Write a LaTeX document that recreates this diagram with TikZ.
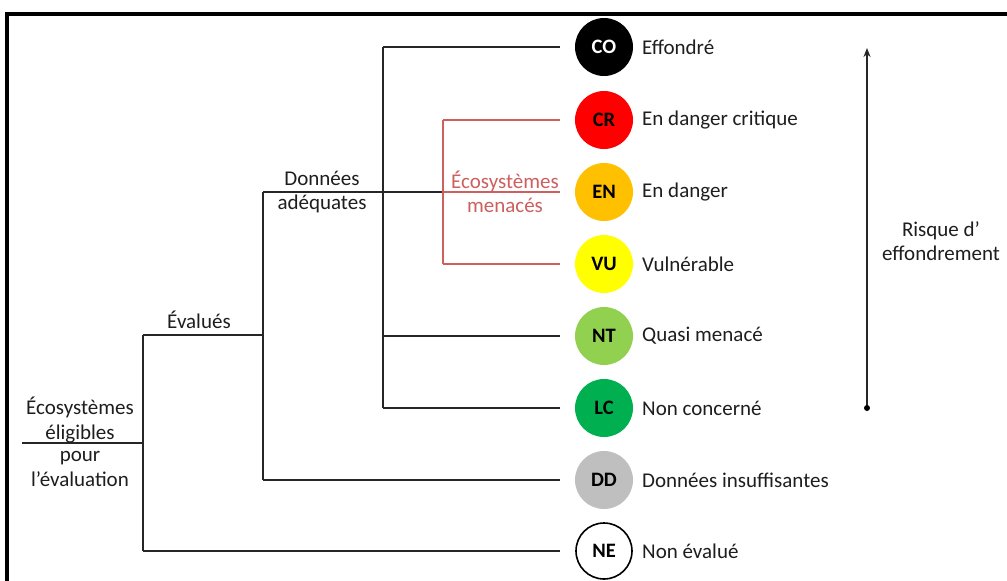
\documentclass[tikz,border=0pt]{standalone}
\usepackage{fontspec}
\setmainfont{Carlito}
\usetikzlibrary{arrows.meta}
\definecolor{crred}{RGB}{255,0,0}
\definecolor{enorange}{RGB}{255,192,0}
\definecolor{vuyellow}{RGB}{255,255,0}
\definecolor{ntgreen}{RGB}{146,208,80}
\definecolor{lcgreen}{RGB}{0,176,80}
\definecolor{ddgray}{RGB}{191,191,191}
\definecolor{menred}{RGB}{205,95,95}
\definecolor{txt}{RGB}{30,30,30}
\tikzset{
  cat/.style={circle, minimum size=58pt, inner sep=0pt, font=\fontsize{20.5}{20.5}\selectfont\bfseries},
  lab/.style={anchor=west, inner sep=0pt, font=\fontsize{21}{24}\selectfont, text=txt},
  tlab/.style={align=center, inner sep=0pt, font=\fontsize{21}{24.5}\selectfont, text=txt},
  tree/.style={line width=1.7pt, black!85},
  redtree/.style={line width=1.6pt, menred},
  tocat/.style={shorten >=15pt}
}
\begin{document}
\begin{tikzpicture}[x=1pt,y=-1pt]
\useasboundingbox (0,0) rectangle (1007,581);
\fill[white] (0,0) rectangle (1007,581);
% frame
\draw[line width=3.5pt, black] (7,581) -- (7,14) -- (1007,14);

% category circles
\node[cat, fill=black, text=white] (co) at (604,47) {CO};
\node[cat, fill=crred] (cr) at (604,120) {CR};
\node[cat, fill=enorange] (en) at (604,192) {EN};
\node[cat, fill=vuyellow] (vu) at (604,264) {VU};
\node[cat, fill=ntgreen] (nt) at (604,336) {NT};
\node[cat, fill=lcgreen] (lc) at (604,408) {LC};
\node[cat, fill=ddgray] (dd) at (604,480) {DD};
\node[cat, fill=white, draw=black, line width=1.6pt, minimum size=56pt] (ne) at (604,551) {NE};

% labels
\node[lab] (lco) at (642,47) {Effondré};
\node[lab] (lcr) at (642,120) {En danger critique};
\node[lab] (len) at (642,192) {En danger};
\node[lab] (lvu) at (642,264) {Vulnérable};
\node[lab] (lnt) at (642,336) {Quasi menacé};
\node[lab] (llc) at (642,408) {Non concerné};
\node[lab] (ldd) at (642,480) {Données insuffisantes};
\node[lab] (lne) at (642,551) {Non évalué};

% junction coordinates
\coordinate (root) at (22,443);
\coordinate (rj) at (143,443);
\coordinate (rt) at (143,335);
\coordinate (rb) at (143,551);
\coordinate (ej) at (263,335);
\coordinate (et) at (263,192);
\coordinate (eb) at (263,480);
\coordinate (dj) at (383,192);
\coordinate (dt) at (383,47);
\coordinate (db) at (383,408);
\coordinate (dn) at (383,336);
\coordinate (mj) at (443,192);
\coordinate (mt) at (443,120);
\coordinate (mb) at (443,264);

% tree
\draw[tree] (root) -- (rj);
\draw[tree] (rt) -- (rb);
\draw[tree, tocat] (rb) -- (ne.west);
\draw[tree] (rt) -- (ej);
\draw[tree] (et) -- (eb);
\draw[tree, tocat] (eb) -- (dd.west);
\draw[tree] (et) -- (dj);
\draw[tree] (dt) -- (db);
\draw[tree, tocat] (dt) -- (co.west);
\draw[tree, tocat] (dn) -- (nt.west);
\draw[tree, tocat] (db) -- (lc.west);
\draw[tree] (dj) -- (mj);
\draw[redtree] (mt) -- (mb);
\draw[redtree, tocat] (mt) -- (cr.west);
\draw[redtree, tocat] (mj) -- (en.west);
\draw[redtree, tocat] (mb) -- (vu.west);

% branch labels
\node[tlab] (elig1) at (80,420) {Écosystèmes\\éligibles};
\node[tlab] (elig2) at (80,469) {pour\\l’évaluation};
\node[tlab] (eval) at (199,320) {Évalués};
\node[tlab] (donnees) at (322,192) {Données\\adéquates};
\node[tlab, text=menred] (menaces) at (505,192) {Écosystèmes\\menacés};

% risk arrow
\coordinate (abot) at (867,408);
\coordinate (atop) at (867,48);
\draw[line width=1.7pt, black!85, -{Stealth[length=9pt,width=7pt]}] (abot) -- (atop);
\fill[black] (abot) circle (3pt);
\node[tlab] (risque) at (941,241) {Risque d’\\effondrement};
\end{tikzpicture}
\end{document}
